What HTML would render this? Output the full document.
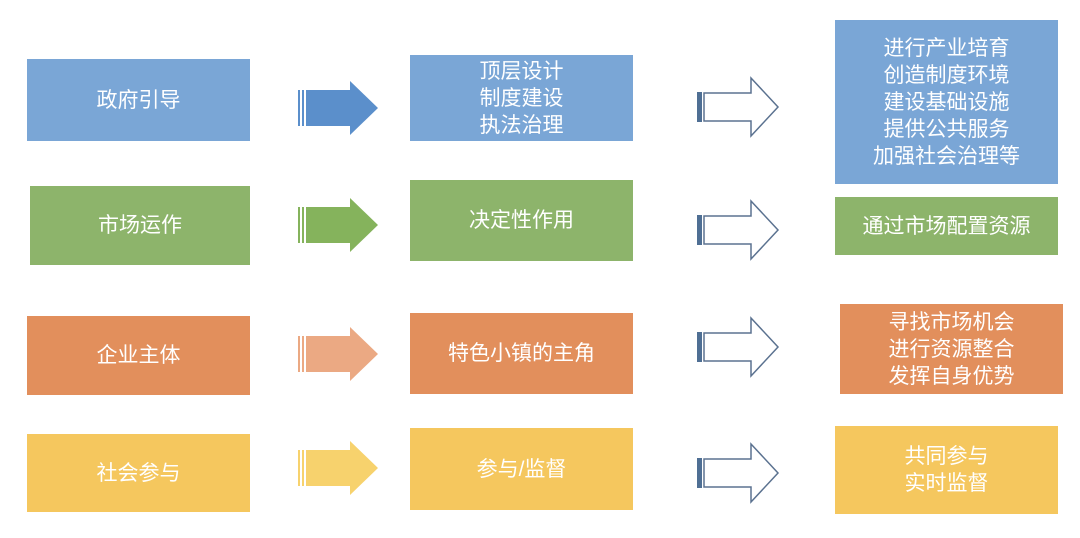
<!DOCTYPE html>
<html><head><meta charset="utf-8"><style>
html,body{margin:0;padding:0;background:#fff;width:1080px;height:538px;overflow:hidden;position:relative}
.b{position:absolute;display:flex;align-items:center;justify-content:center;text-align:center;color:#fff;font-family:"Liberation Sans","Noto Sans CJK SC",sans-serif;font-size:21px;line-height:27px}
.bl{background:#7aa6d6}.gr{background:#8db46b}.or{background:#e28f5c}.ye{background:#f5c75e}
svg{position:absolute;left:0;top:0}
</style></head><body>
<div class="b bl" style="left:27px;top:59px;width:223px;height:82px">政府引导</div>
<div class="b gr" style="left:30px;top:186px;width:220px;height:79px">市场运作</div>
<div class="b or" style="left:27px;top:316px;width:223px;height:79px">企业主体</div>
<div class="b ye" style="left:27px;top:434px;width:223px;height:78px">社会参与</div>

<div class="b bl" style="left:410px;top:55px;width:223px;height:86px">顶层设计<br>制度建设<br>执法治理</div>
<div class="b gr" style="left:410px;top:180px;width:223px;height:81px">决定性作用</div>
<div class="b or" style="left:410px;top:313px;width:223px;height:81px">特色小镇的主角</div>
<div class="b ye" style="left:410px;top:428px;width:223px;height:82px">参与/监督</div>

<div class="b bl" style="left:835px;top:20px;width:223px;height:164px">进行产业培育<br>创造制度环境<br>建设基础设施<br>提供公共服务<br>加强社会治理等</div>
<div class="b gr" style="left:835px;top:197px;width:223px;height:58px">通过市场配置资源</div>
<div class="b or" style="left:840px;top:304px;width:223px;height:90px">寻找市场机会<br>进行资源整合<br>发挥自身优势</div>
<div class="b ye" style="left:835px;top:426px;width:223px;height:88px">共同参与<br>实时监督</div>

<svg width="1080" height="538">
<defs>
<g id="fa">
<rect x="298" y="-18" width="2" height="36"/><rect x="302" y="-18" width="2" height="36"/>
<polygon points="306,-18 350,-18 350,-27 378,0 350,27 350,18 306,18"/>
</g>
<g id="oa">
<rect x="697" y="-15" width="5" height="30" fill="#4f6f94"/>
<polygon points="704,-14 751,-14 751,-29 778,0 751,29 751,14 704,14" fill="#fff" stroke="#5b7290" stroke-width="1.5"/>
</g>
</defs>
<use href="#fa" transform="translate(0,108)" fill="#5b8fcb"/>
<use href="#fa" transform="translate(0,225)" fill="#85b35c"/>
<use href="#fa" transform="translate(0,354)" fill="#eba983"/>
<use href="#fa" transform="translate(0,468)" fill="#f7d26d"/>
<use href="#oa" transform="translate(0,107)"/>
<use href="#oa" transform="translate(0,230)"/>
<use href="#oa" transform="translate(0,347)"/>
<use href="#oa" transform="translate(0,473)"/>
</svg>
</body></html>
